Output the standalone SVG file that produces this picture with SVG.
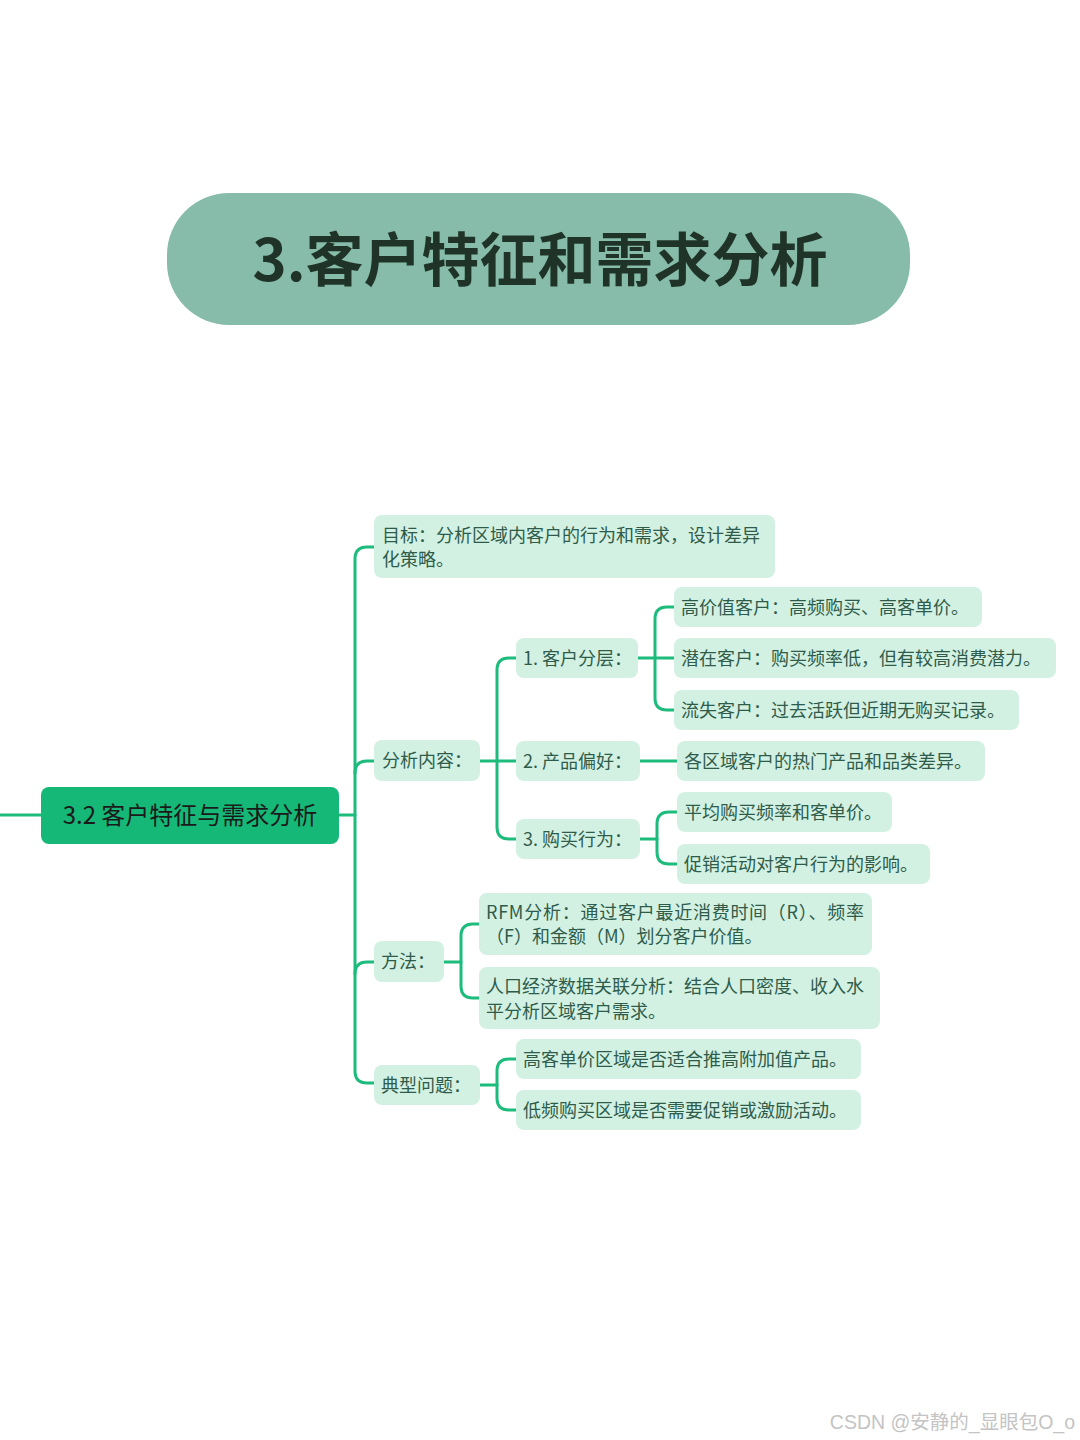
<svg xmlns="http://www.w3.org/2000/svg" width="1080" height="1440" viewBox="0 0 1080 1440">
<style>
.n{fill:#d2f1e3}
.t{font-family:"Noto Sans CJK SC","Noto Sans",sans-serif;font-size:18px;fill:#2f5c4a}
.c{fill:none;stroke:#1dbb7c;stroke-width:3;stroke-linecap:round}
</style>
<rect width="1080" height="1440" fill="#ffffff"/>
<g id="title">
<rect x="167" y="193" width="743" height="132" rx="62" fill="#86bca9"/>
<text x="540" y="281" text-anchor="middle" font-family="Noto Sans CJK SC,sans-serif" font-size="58" font-weight="bold" fill="#1f3329">3.客户特征和需求分析</text>
</g>
<g id="connectors">
<path class="c" d="M0 815 H41"/>
<path class="c" d="M339 815 H355"/>
<path class="c" d="M374 547 H367 Q355 547 355 559 V1071 Q355 1083 367 1083 H374"/>
<path class="c" d="M355 773 Q355 761 367 761 H374"/>
<path class="c" d="M355 974 Q355 962 367 962 H374"/>
<path class="c" d="M480 761 H516"/>
<path class="c" d="M516 658 H509 Q497 658 497 670 V827 Q497 839 509 839 H516"/>
<path class="c" d="M638 658 H674"/>
<path class="c" d="M674 607 H667 Q655 607 655 619 V698 Q655 710 667 710 H674"/>
<path class="c" d="M640 761 H677"/>
<path class="c" d="M640 839 H657"/>
<path class="c" d="M677 812 H669 Q657 812 657 824 V852 Q657 864 669 864 H677"/>
<path class="c" d="M444 962 H461"/>
<path class="c" d="M479 924 H473 Q461 924 461 936 V986 Q461 998 473 998 H479"/>
<path class="c" d="M480 1085 H497"/>
<path class="c" d="M516 1059 H509 Q497 1059 497 1071 V1098 Q497 1110 509 1110 H516"/>
</g>
<g id="root">
<rect x="41" y="787" width="298" height="57" rx="8" fill="#16b878"/>
<text x="190" y="824" text-anchor="middle" font-family="Noto Sans CJK SC,sans-serif" font-size="24" fill="#1a1a1a">3.2 客户特征与需求分析</text>
</g>
<g id="goal">
<rect class="n" x="374" y="515" width="401" height="63" rx="8"/>
<text class="t" x="382" y="542">目标：分析区域内客户的行为和需求，设计差异</text>
<text class="t" x="382" y="566">化策略。</text>
</g>
<g id="content">
<rect class="n" x="374" y="740" width="106" height="41" rx="8"/>
<text class="t" x="382" y="767">分析内容：</text>
</g>
<g id="seg">
<rect class="n" x="516" y="638" width="122" height="40" rx="8"/>
<text class="t" x="523" y="665">1. 客户分层：</text>
</g>
<g id="seg1">
<rect class="n" x="674" y="587" width="308" height="40" rx="8"/>
<text class="t" x="681" y="614">高价值客户：高频购买、高客单价。</text>
</g>
<g id="seg2">
<rect class="n" x="674" y="638" width="382" height="40" rx="8"/>
<text class="t" x="681" y="665">潜在客户：购买频率低，但有较高消费潜力。</text>
</g>
<g id="seg3">
<rect class="n" x="674" y="690" width="345" height="40" rx="8"/>
<text class="t" x="681" y="717">流失客户：过去活跃但近期无购买记录。</text>
</g>
<g id="pref">
<rect class="n" x="516" y="741" width="124" height="40" rx="8"/>
<text class="t" x="523" y="768">2. 产品偏好：</text>
</g>
<g id="pref1">
<rect class="n" x="677" y="741" width="308" height="40" rx="8"/>
<text class="t" x="684" y="768">各区域客户的热门产品和品类差异。</text>
</g>
<g id="buy">
<rect class="n" x="516" y="819" width="124" height="40" rx="8"/>
<text class="t" x="523" y="846">3. 购买行为：</text>
</g>
<g id="buy1">
<rect class="n" x="677" y="792" width="215" height="40" rx="8"/>
<text class="t" x="684" y="819">平均购买频率和客单价。</text>
</g>
<g id="buy2">
<rect class="n" x="677" y="844" width="253" height="40" rx="8"/>
<text class="t" x="684" y="871">促销活动对客户行为的影响。</text>
</g>
<g id="method">
<rect class="n" x="374" y="941" width="70" height="41" rx="8"/>
<text class="t" x="381" y="968">方法：</text>
</g>
<g id="rfm">
<rect class="n" x="479" y="893" width="393" height="62" rx="8"/>
<text class="t" x="486" y="919" textLength="378">RFM分析：通过客户最近消费时间（R）、频率</text>
<text class="t" x="486" y="943">（F）和金额（M）划分客户价值。</text>
</g>
<g id="demo">
<rect class="n" x="479" y="967" width="401" height="62" rx="8"/>
<text class="t" x="486" y="993">人口经济数据关联分析：结合人口密度、收入水</text>
<text class="t" x="486" y="1018">平分析区域客户需求。</text>
</g>
<g id="issues">
<rect class="n" x="374" y="1065" width="106" height="40" rx="8"/>
<text class="t" x="381" y="1092">典型问题：</text>
</g>
<g id="issue1">
<rect class="n" x="516" y="1039" width="345" height="40" rx="8"/>
<text class="t" x="523" y="1066">高客单价区域是否适合推高附加值产品。</text>
</g>
<g id="issue2">
<rect class="n" x="516" y="1090" width="345" height="40" rx="8"/>
<text class="t" x="523" y="1117">低频购买区域是否需要促销或激励活动。</text>
</g>
<text x="1075" y="1429" text-anchor="end" font-family="Liberation Sans,Noto Sans CJK SC,sans-serif" font-size="19.5" fill="#c4c4c4">CSDN @安静的_显眼包O_o</text>
</svg>
